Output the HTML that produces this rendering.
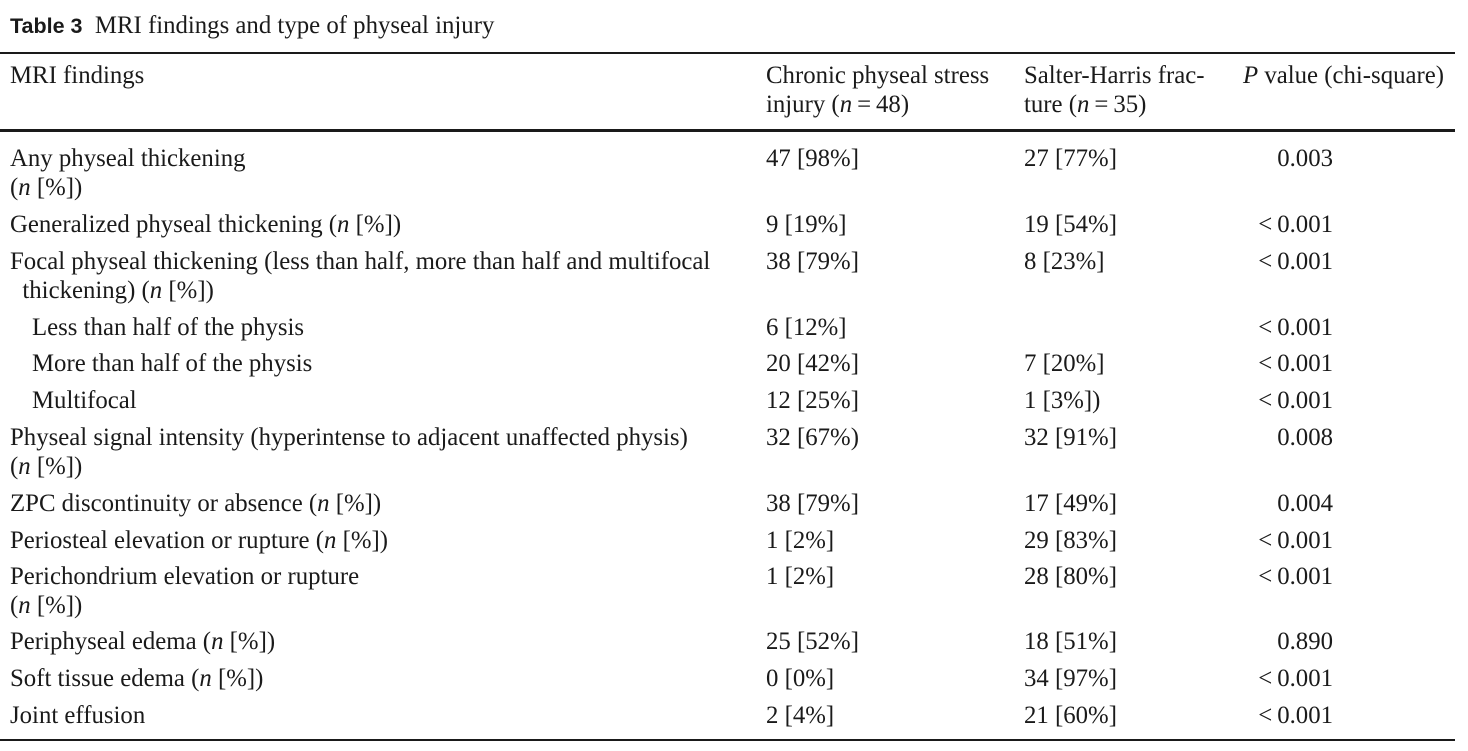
<!DOCTYPE html>
<html><head><meta charset="utf-8"><style>
body{margin:0;width:1468px;height:751px;background:#fff;position:relative;overflow:hidden;color:#1a1a1a;font-family:"Liberation Serif",serif;font-size:24.8px}
.t{position:absolute;line-height:29px;white-space:nowrap}
.r{position:absolute;white-space:nowrap;line-height:29px;text-align:right;width:200px}
.rule{position:absolute;left:0;width:1455px;background:#1a1a1a}
i{font-style:italic}
</style></head><body>
<div class="t" style="left:10px;top:11px"><b style="font-family:'Liberation Sans',sans-serif;font-size:21.5px">Table 3</b>&nbsp; MRI findings and type of physeal injury</div>
<div class="rule" style="top:52px;height:1.5px"></div>
<div class="t" style="left:10px;top:61px">MRI findings</div>
<div class="t" style="left:766px;top:61px">Chronic physeal stress<br>injury (<i>n</i>&thinsp;=&thinsp;48)</div>
<div class="t" style="left:1024px;top:61px">Salter-Harris frac-<br>ture (<i>n</i>&thinsp;=&thinsp;35)</div>
<div class="t" style="left:1243px;top:61px"><i>P</i> value (chi-square)</div>
<div class="rule" style="top:129px;height:3px"></div>
<div id="rows"></div>
<div class="rule" style="top:739px;height:1.5px"></div>
<script>
const labels=[
 ["Any physeal thickening<br>(<i>n</i> [%])",0],
 ["Generalized physeal thickening (<i>n</i> [%])",0],
 ["Focal physeal thickening (less than half, more than half and multifocal<br>&nbsp;&nbsp;thickening) (<i>n</i> [%])",0],
 ["Less than half of the physis",1],
 ["More than half of the physis",1],
 ["Multifocal",1],
 ["Physeal signal intensity (hyperintense to adjacent unaffected physis)<br>(<i>n</i> [%])",0],
 ["ZPC discontinuity or absence (<i>n</i> [%])",0],
 ["Periosteal elevation or rupture (<i>n</i> [%])",0],
 ["Perichondrium elevation or rupture<br>(<i>n</i> [%])",0],
 ["Periphyseal edema (<i>n</i> [%])",0],
 ["Soft tissue edema (<i>n</i> [%])",0],
 ["Joint effusion",0]];
const chronic=["47 [98%]","9 [19%]","38 [79%]","6 [12%]","20 [42%]","12 [25%]","32 [67%)","38 [79%]","1 [2%]","1 [2%]","25 [52%]","0 [0%]","2 [4%]"];
const salter=["27 [77%]","19 [54%]","8 [23%]","","7 [20%]","1 [3%])","32 [91%]","17 [49%]","29 [83%]","28 [80%]","18 [51%]","34 [97%]","21 [60%]"];
const pvals=["0.003","<\u20090.001","<\u20090.001","<\u20090.001","<\u20090.001","<\u20090.001","0.008","0.004","<\u20090.001","<\u20090.001","0.890","<\u20090.001","<\u20090.001"];
const tops=[144,210,247,313,349,386,423,489,526,562,627,664,701];
const c=document.getElementById('rows');
labels.forEach((l,k)=>{
 const top=tops[k];
 const a=document.createElement('div');a.className='t';a.style.left=(l[1]?32:10)+'px';a.style.top=top+'px';a.innerHTML=l[0];
 
 
 c.appendChild(a);
 const b=document.createElement('div');b.className='t';b.style.left='766px';b.style.top=top+'px';b.textContent=chronic[k];
 
 
 c.appendChild(b);
 const d=document.createElement('div');d.className='t';d.style.left='1024px';d.style.top=top+'px';d.textContent=salter[k];
 
 
 c.appendChild(d);
 const e=document.createElement('div');e.className='r';e.style.left='1133px';e.style.top=top+'px';e.textContent=pvals[k];
 
 
 c.appendChild(e);
});
</script>
</body></html>
